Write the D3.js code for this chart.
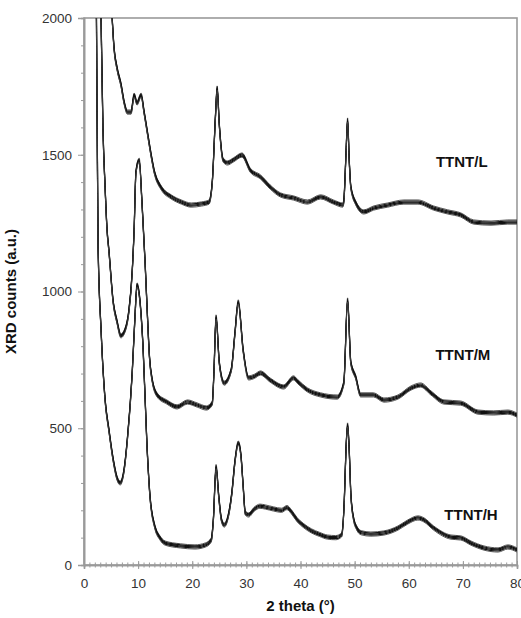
<!DOCTYPE html>
<html>
<head>
<meta charset="utf-8">
<script src="https://cdn.jsdelivr.net/npm/d3@7"></script>
<style>
  html, body { margin: 0; padding: 0; background: #fff; }
  svg { display: block; font-family: Arial, "Liberation Sans", sans-serif; }
</style>
</head>
<body>
<svg id="chart" width="521" height="618"></svg>
<script>
// XRD patterns of the three titanate nanotube samples (2θ in degrees, counts in a.u.)
const thetaH = [2.1, 2.3, 2.6, 3.15, 3.9, 4.6, 5.4, 6.1, 6.7, 7.4, 8.0, 8.9, 9.4, 9.8, 10.2, 10.9, 11.65, 12.2, 13.1, 14.0, 15.0, 17.8, 20.5, 22.4, 23.5, 23.9, 24.4, 24.9, 25.4, 25.9, 26.6, 27.3, 27.9, 28.5, 29.0, 29.4, 29.8, 30.4, 31.5, 32.5, 33.5, 35.0, 36.5, 37.5, 38.3, 39.4, 40.5, 42.0, 43.5, 45.0, 46.5, 47.6, 48.1, 48.4, 48.7, 49.0, 49.3, 49.8, 50.4, 51.2, 53.0, 55.4, 58.0, 59.8, 61.7, 62.8, 64.6, 67.8, 69.6, 71.5, 73.9, 76.5, 78.3, 80.0];
const countsH = [2400, 2000, 1170, 860, 603, 494, 384, 318, 300, 347, 457, 700, 900, 1024, 990, 800, 431, 249, 139, 100, 80, 70, 66, 73, 91, 165, 360, 250, 165, 146, 175, 260, 380, 446, 400, 290, 190, 183, 205, 215, 212, 205, 200, 210, 195, 165, 145, 125, 112, 102, 100, 110, 240, 420, 512, 420, 260, 170, 135, 118, 113, 117, 135, 157, 172, 165, 135, 102, 99, 80, 62, 55, 66, 55];

const thetaM = [2.9, 3.15, 3.5, 3.9, 4.26, 4.6, 5.4, 6.1, 6.8, 7.6, 8.3, 8.9, 9.26, 9.6, 10.2, 10.7, 11.3, 11.7, 12.1, 12.6, 13.5, 15.3, 17.2, 19.1, 20.9, 22.6, 23.7, 24.0, 24.4, 25.0, 25.9, 27.2, 27.9, 28.5, 29.4, 30.4, 31.5, 32.6, 34.4, 36.9, 38.7, 39.5, 41.3, 43.7, 46.8, 48.0, 48.7, 49.3, 50.2, 51.1, 53.5, 55.4, 58.0, 60.4, 62.2, 64.1, 66.5, 69.6, 72.8, 75.7, 78.3, 80.0];
const countsM = [2400, 2000, 1600, 1380, 1225, 1150, 960, 890, 838, 860, 930, 1070, 1225, 1437, 1480, 1330, 1100, 920, 760, 676, 622, 596, 578, 596, 585, 574, 592, 700, 907, 739, 665, 713, 850, 962, 786, 684, 690, 702, 676, 651, 684, 670, 640, 622, 614, 665, 969, 739, 687, 622, 622, 603, 614, 647, 658, 629, 596, 592, 559, 556, 559, 548];

const thetaL = [3.5, 5.2, 5.55, 6.1, 6.85, 7.4, 8.0, 8.7, 9.26, 9.8, 10.55, 11.1, 11.7, 12.4, 13.0, 14.3, 16.1, 18.0, 19.8, 21.7, 23.1, 23.7, 24.3, 24.6, 25.0, 25.7, 26.5, 27.6, 29.2, 30.7, 32.6, 34.4, 36.3, 38.7, 41.3, 43.7, 46.1, 47.8, 48.0, 48.4, 48.7, 49.0, 49.3, 50.2, 51.7, 53.5, 56.1, 59.1, 61.7, 64.6, 67.2, 69.6, 72.0, 75.2, 78.3, 80.0];
const countsL = [2800, 2000, 1890, 1817, 1755, 1693, 1656, 1656, 1718, 1689, 1718, 1656, 1583, 1499, 1437, 1378, 1346, 1327, 1316, 1320, 1327, 1400, 1645, 1744, 1609, 1481, 1470, 1481, 1499, 1444, 1419, 1382, 1353, 1342, 1327, 1346, 1327, 1316, 1330, 1500, 1627, 1480, 1382, 1324, 1291, 1305, 1316, 1327, 1327, 1305, 1291, 1280, 1254, 1250, 1254, 1254];

const seriesNames = ["TTNT/L", "TTNT/M", "TTNT/H"];
const seriesTheta = [thetaL, thetaM, thetaH];
const seriesCounts = [countsL, countsM, countsH];
// where each sample name sits (θ, counts)
const labelTheta = [69.8, 70.0, 71.5];
const labelCounts = [1455, 750, 165];

const xTicks = [0, 10, 20, 30, 40, 50, 60, 70, 80];
const yTicks = [0, 500, 1000, 1500, 2000];

const W = 521, H = 618;
const margin = { top: 18, right: 4, bottom: 53, left: 84 };
const svg = d3.select("#chart");
const innerW = W - margin.left - margin.right;
const innerH = H - margin.top - margin.bottom;

const x = d3.scaleLinear().domain([0, 80]).range([margin.left, margin.left + innerW]);
const y = d3.scaleLinear().domain([0, 2000]).range([margin.top + innerH, margin.top]);

const axisColor = "#9a9a9a";
const textColor = "#333";

svg.append("defs").append("clipPath").attr("id", "plotClip")
  .append("rect")
  .attr("x", margin.left).attr("y", margin.top)
  .attr("width", innerW).attr("height", innerH);

// frame (top and right edges)
svg.append("rect")
  .attr("x", margin.left).attr("y", margin.top)
  .attr("width", innerW).attr("height", innerH)
  .attr("fill", "none").attr("stroke", axisColor).attr("stroke-width", 1.6);

// pattern curves: each drawn as a narrow vertical band to carry the counting noise look
const line = d3.line().x(d => x(d[0])).y(d => y(d[1])).curve(d3.curveMonotoneX);
const plot = svg.append("g").attr("clip-path", "url(#plotClip)");
const bandOffsets = [-2.1, -1.05, 0, 1.05, 2.1];
seriesNames.forEach((name, i) => {
  const pts = seriesTheta[i].map((t, k) => [t, seriesCounts[i][k]]);
  bandOffsets.forEach((dy, j) => {
    const edge = j === 0 || j === bandOffsets.length - 1;
    plot.append("path")
      .datum(pts)
      .attr("transform", `translate(0,${dy})`)
      .attr("fill", "none")
      .attr("stroke", edge ? "#444" : "#111")
      .attr("stroke-width", edge ? 0.9 : 1.2)
      .attr("stroke-linejoin", "round")
      .attr("d", line);
  });
});

// y axis with minor ticks every 100
const yMinor = svg.append("g").attr("transform", `translate(${margin.left},0)`)
  .call(d3.axisLeft(y).tickValues(d3.range(0, 2001, 100)).tickSize(3).tickFormat(""));
const yAxis = svg.append("g").attr("transform", `translate(${margin.left},0)`)
  .call(d3.axisLeft(y).tickValues(yTicks).tickSize(6).tickPadding(6).tickFormat(d3.format("d")));

// x axis with crossing ticks, minor every 1°
const baseY = margin.top + innerH;
const xMinor = svg.append("g").attr("transform", `translate(0,${baseY})`)
  .call(d3.axisBottom(x).tickValues(d3.range(0, 81, 1)).tickSize(2.5).tickFormat(""));
xMinor.selectAll(".tick line").attr("y1", -2.5);
const xAxis = svg.append("g").attr("transform", `translate(0,${baseY})`)
  .call(d3.axisBottom(x).tickValues(xTicks).tickSize(4).tickPadding(9).tickFormat(d3.format("d")));
xAxis.selectAll(".tick line").attr("y1", -4);

[yMinor, yAxis, xMinor, xAxis].forEach(g => {
  g.select(".domain").attr("stroke", axisColor).attr("stroke-width", 1.6);
  g.selectAll(".tick line").attr("stroke", axisColor).attr("stroke-width", 1);
});
[yAxis, xAxis].forEach(g => {
  g.selectAll(".tick text")
    .attr("fill", textColor)
    .style("font-size", "13.5px")
    .style("font-family", "Arial, 'Liberation Sans', sans-serif");
});

// axis titles
svg.append("text")
  .attr("x", x(40)).attr("y", 611)
  .attr("text-anchor", "middle")
  .style("font-size", "15px").style("font-weight", "bold")
  .attr("fill", "#111")
  .text("2 theta (°)");

svg.append("text")
  .attr("transform", `translate(16,${(margin.top + baseY) / 2}) rotate(-90)`)
  .attr("text-anchor", "middle")
  .style("font-size", "15px").style("font-weight", "bold")
  .attr("fill", "#111")
  .text("XRD counts (a.u.)");

// sample names
seriesNames.forEach((name, i) => {
  svg.append("text")
    .attr("x", x(labelTheta[i])).attr("y", y(labelCounts[i]))
    .attr("text-anchor", "middle")
    .style("font-size", "15px").style("font-weight", "bold")
    .attr("fill", "#111")
    .text(name);
});
</script>
</body>
</html>
